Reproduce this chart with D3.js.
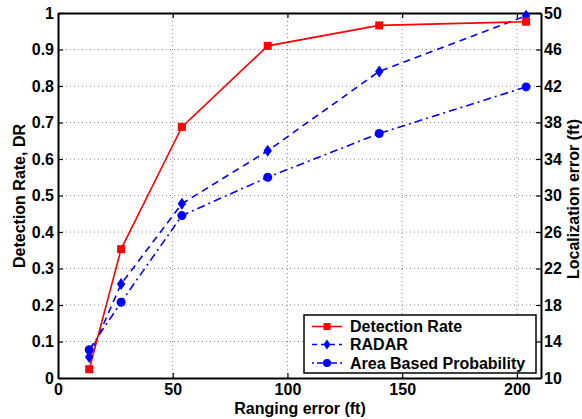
<!DOCTYPE html>
<html><head><meta charset="utf-8">
<script src="https://cdn.jsdelivr.net/npm/d3@7/dist/d3.min.js"></script>
<style>body{margin:0;background:#fff}text{font-family:"Liberation Sans",Arial,sans-serif;font-weight:bold}</style>
</head><body><svg id="c" width="582" height="419"></svg>
<script>
const rangingError = [13.6, 27.5, 54, 91.4, 140, 204];
const detectionRate = [0.024, 0.353, 0.688, 0.910, 0.966, 0.976];
const radarError = [12.3, 20.3, 29.1, 34.9, 43.6, 49.7];
const areaError = [13.1, 18.3, 27.8, 32.0, 36.8, 41.9];
const xTicks = [0, 50, 100, 150, 200];
const leftTicks = [0, 0.1, 0.2, 0.3, 0.4, 0.5, 0.6, 0.7, 0.8, 0.9, 1];
const rightTicks = [10, 14, 18, 22, 26, 30, 34, 38, 42, 46, 50];
const seriesNames = ["Detection Rate", "RADAR", "Area Based Probability"];

const svg = d3.select("#c");
const L = 58, R = 541, T = 13, B = 378;
const x = d3.scaleLinear().domain([0, 210.5]).range([L, R]);
const yl = d3.scaleLinear().domain([0, 1]).range([B, T]);
const yr = d3.scaleLinear().domain([10, 50]).range([B, T]);

// grid
const g = svg.append("g");
xTicks.filter(d => d > 0).forEach(d => g.append("line").attr("x1", x(d)).attr("x2", x(d)).attr("y1", T).attr("y2", B)
  .attr("stroke", "#888").attr("stroke-width", 1).attr("stroke-dasharray", "1,3"));
leftTicks.filter(d => d > 0 && d < 1).forEach(d => g.append("line").attr("x1", L).attr("x2", R).attr("y1", yl(d)).attr("y2", yl(d))
  .attr("stroke", "#888").attr("stroke-width", 1).attr("stroke-dasharray", "1,3"));

// axes
const ax = svg.append("g");
const axBottom = d3.axisBottom(x).tickValues(xTicks).tickSizeInner(-5).tickSizeOuter(0).tickPadding(6);
const axTop = d3.axisTop(x).tickValues(xTicks).tickSizeInner(-5).tickSizeOuter(0).tickFormat("");
const axLeft = d3.axisLeft(yl).tickValues(leftTicks).tickSizeInner(-5).tickSizeOuter(0).tickPadding(4).tickFormat(d => d === 0 ? "0" : d3.format("")(d));
const axRight = d3.axisRight(yr).tickValues(rightTicks).tickSizeInner(-5).tickSizeOuter(0).tickPadding(3);
function style(sel) {
  sel.select(".domain").attr("stroke", "#000").attr("stroke-width", 2);
  sel.selectAll(".tick line").attr("stroke", "#000").attr("stroke-width", 1.2);
  sel.selectAll(".tick text").attr("font-size", 16).attr("fill", "#000").attr("font-family", "Liberation Sans, Arial, sans-serif").attr("font-weight", "bold");
}
ax.append("g").attr("transform", `translate(0,${B})`).call(axBottom).call(style);
ax.append("g").attr("transform", `translate(0,${T})`).call(axTop).call(style);
ax.append("g").attr("transform", `translate(${L},0)`).call(axLeft).call(style);
ax.append("g").attr("transform", `translate(${R},0)`).call(axRight).call(style);

// axis labels
svg.append("text").attr("x", 300).attr("y", 414).attr("text-anchor", "middle").attr("font-size", 16).text("Ranging error (ft)");
svg.append("text").attr("transform", `translate(25,196) rotate(-90)`).attr("text-anchor", "middle").attr("font-size", 16).text("Detection Rate, DR");
svg.append("text").attr("transform", `translate(579,199) rotate(-90)`).attr("text-anchor", "middle").attr("font-size", 16).text("Localization error (ft)");

// lines
const red = "#ff0000", blue = "#0000ff";
const dr = rangingError.map((d, i) => [x(d), yl(detectionRate[i])]);
const rd = rangingError.map((d, i) => [x(d), yr(radarError[i])]);
const ar = rangingError.map((d, i) => [x(d), yr(areaError[i])]);
const line = d3.line();
svg.append("path").attr("d", line(ar)).attr("fill", "none").attr("stroke", blue).attr("stroke-width", 1.6).attr("stroke-dasharray", "8,4,2,4");
svg.append("path").attr("d", line(rd)).attr("fill", "none").attr("stroke", blue).attr("stroke-width", 1.6).attr("stroke-dasharray", "7,5");
svg.append("path").attr("d", line(dr)).attr("fill", "none").attr("stroke", red).attr("stroke-width", 1.6);

function square(sel, p, s) { sel.append("rect").attr("x", p[0] - s / 2).attr("y", p[1] - s / 2).attr("width", s).attr("height", s).attr("fill", red); }
function diamond(sel, p, s) { sel.append("path").attr("d", `M${p[0]},${p[1] - s}L${p[0] + s * 0.7},${p[1]}L${p[0]},${p[1] + s}L${p[0] - s * 0.7},${p[1]}Z`).attr("fill", blue); }
function circle(sel, p, r) { sel.append("circle").attr("cx", p[0]).attr("cy", p[1]).attr("r", r).attr("fill", blue); }
ar.forEach(p => circle(svg, p, 4.5));
rd.forEach(p => diamond(svg, p, 6));
dr.forEach(p => square(svg, p, 8));

// legend
const lg = svg.append("g");
lg.append("rect").attr("x", 304).attr("y", 315).attr("width", 232).attr("height", 58).attr("fill", "#fff").attr("stroke", "#000").attr("stroke-width", 1.5);
const rows = [326.5, 344.5, 363];
const styles = [{c: red, dash: null, m: "s"}, {c: blue, dash: "5,4", m: "d"}, {c: blue, dash: "2,3,6,3", m: "c"}];
rows.forEach((yy, i) => {
  const st = styles[i];
  const l = lg.append("line").attr("x1", 312).attr("x2", 342).attr("y1", yy).attr("y2", yy).attr("stroke", st.c).attr("stroke-width", 1.6);
  if (st.dash) l.attr("stroke-dasharray", st.dash);
  if (st.m === "s") square(lg, [327, yy], 7);
  else if (st.m === "d") diamond(lg, [327, yy], 5);
  else circle(lg, [327, yy], 4);
  lg.append("text").attr("x", 350).attr("y", yy + 5.5).attr("font-size", 16).text(seriesNames[i]);
});
</script></body></html>
